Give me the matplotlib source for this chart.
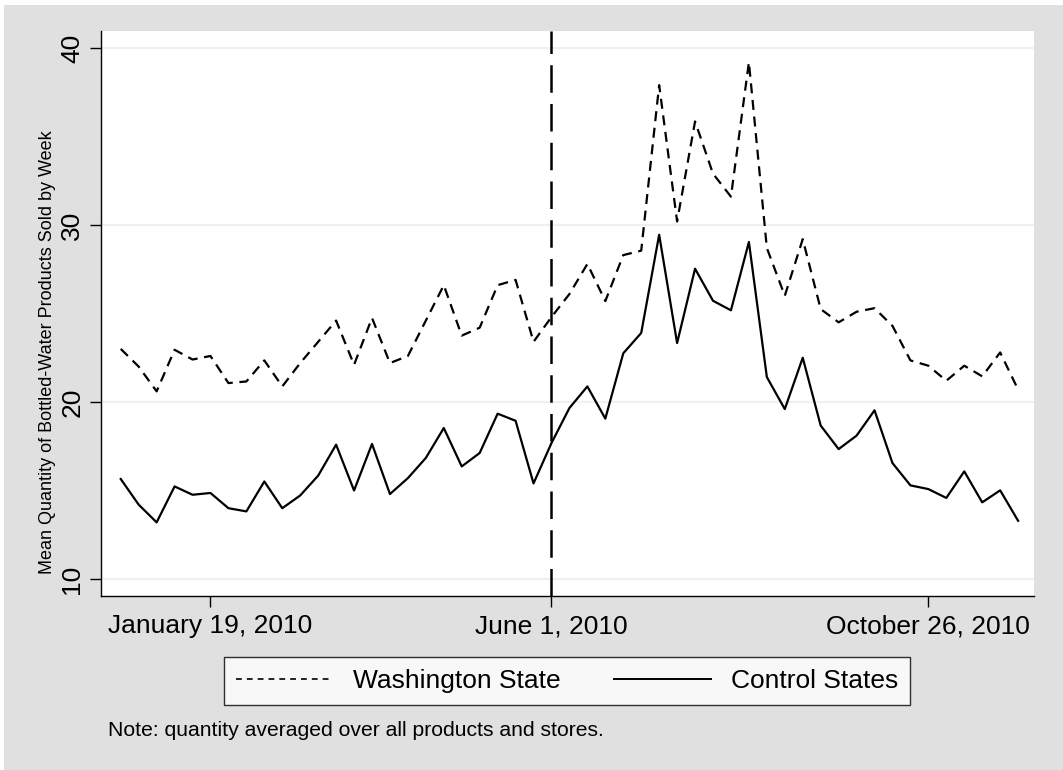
import numpy as np
import pandas as pd
import matplotlib
matplotlib.use("Agg")
import matplotlib.pyplot as plt
from matplotlib.lines import Line2D
from matplotlib.patches import Rectangle

plt.rcParams["font.family"] = ["Liberation Sans", "DejaVu Sans"]

# weekly observations, Dec 15 2009 .. Nov 30 2010
weeks = pd.date_range("2009-12-15", periods=51, freq="7D")

washington = [23.0, 22.0, 20.6, 22.95, 22.4, 22.6, 21.07, 21.16, 22.35, 20.88,
              22.2, 23.4, 24.6, 22.1, 24.75, 22.2, 22.6, 24.6, 26.6, 23.75,
              24.2, 26.6, 26.9, 23.4, 24.8, 26.1, 27.8, 25.7, 28.3, 28.55,
              37.9, 30.2, 35.85, 32.9, 31.6, 39.2, 28.7, 26.0, 29.2, 25.25,
              24.5, 25.1, 25.3, 24.3, 22.35, 22.05, 21.2, 22.05, 21.45, 22.8,
              20.7]

control = [15.65, 14.2, 13.2, 15.23, 14.76, 14.86, 14.0, 13.82, 15.51, 14.0,
           14.72, 15.84, 17.59, 15.0, 17.63, 14.8, 15.7, 16.84, 18.53, 16.36,
           17.12, 19.34, 18.94, 15.4, 17.68, 19.66, 20.88, 19.06, 22.75, 23.9,
           29.45, 23.33, 27.53, 25.72, 25.18, 29.04, 21.41, 19.6, 22.5, 18.67,
           17.34, 18.1, 19.53, 16.55, 15.29, 15.08, 14.58, 16.08, 14.33, 15.01,
           13.29]

tick_dates = pd.to_datetime(["2010-01-19", "2010-06-01", "2010-10-26"])
tick_labels = ["January 19, 2010", "June 1, 2010", "October 26, 2010"]
policy_date = pd.Timestamp("2010-06-01")
y_ticks = [10, 20, 30, 40]

W, H = 1063, 770
fig = plt.figure(figsize=(W / 100, H / 100), dpi=100)
fig.patch.set_facecolor("white")
fig.patches.append(Rectangle((4 / W, 0), 1, 1 - 5 / H, transform=fig.transFigure,
                             facecolor="#e0e0e0", edgecolor="none", zorder=-10))

ax = fig.add_axes([101 / W, (H - 596) / H, (1034 - 101) / W, (596 - 31) / H])
ax.set_facecolor("white")

ax.plot(weeks, washington, color="black", lw=1.6, ls=(0, (4.5, 3)))
ax.plot(weeks, control, color="black", lw=1.6)
ax.axvline(policy_date, color="black", lw=1.8, ls=(0, (11, 4.5)))

ax.set_ylim(9.04, 40.96)
ax.set_xlim(weeks[0] - pd.Timedelta(days=7.7), weeks[-1] + pd.Timedelta(days=6.2))
ax.set_yticks(y_ticks)
ax.set_xticks(tick_dates)
ax.set_xticklabels(tick_labels)
ax.yaxis.grid(True, color="#eaf2f3", lw=1.5)
ax.set_axisbelow(True)

for s in ["top", "right"]:
    ax.spines[s].set_visible(False)
for s in ["left", "bottom"]:
    ax.spines[s].set_linewidth(1.0)

ax.tick_params(axis="both", direction="out", length=8, width=1, labelsize=19)
ax.tick_params(axis="x", pad=5)
ax.tick_params(axis="y", pad=4)
for lab in ax.get_yticklabels():
    lab.set_rotation(90)
    lab.set_va("center")

ax.set_ylabel("Mean Quantity of Bottled-Water Products Sold by Week", fontsize=13)
ax.yaxis.set_label_coords(-45 / 933, (596 - 352) / 565)

handles = [Line2D([], [], color="black", lw=1.2, ls=(0, (3.5, 3))),
           Line2D([], [], color="black", lw=1.4)]
leg = fig.legend(handles, ["Washington State", "Control States"], ncol=2,
                 loc="center", bbox_to_anchor=(567 / W, 1 - 681 / H),
                 fontsize=19, frameon=True, fancybox=False, edgecolor="black",
                 handlelength=3.7, handletextpad=0.75, columnspacing=2.0,
                 borderpad=0.45, borderaxespad=0)
leg.get_frame().set_linewidth(1.0)

fig.text(108 / W, 1 - 730 / H, "Note: quantity averaged over all products and stores.",
         fontsize=15.2, va="center", ha="left")

fig.savefig("out.png", dpi=100)
